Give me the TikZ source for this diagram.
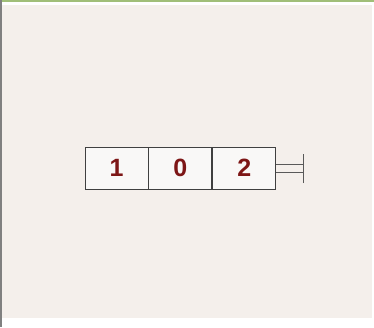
\documentclass[tikz,border=0pt]{standalone}
\usepackage{fontspec}
\setsansfont{Liberation Sans}
\usetikzlibrary{positioning}
\definecolor{slidebg}{RGB}{244, 239, 235}
\definecolor{cellfill}{RGB}{249, 248, 247}
\definecolor{digitred}{RGB}{125, 22, 22}
\definecolor{framegreen}{RGB}{160, 190, 120}

\begin{document}
\begin{tikzpicture}[x=1pt, y=-1pt, node distance=0pt,
    cell/.style={draw=black!75, line width=0.9pt, fill=cellfill, minimum width=63pt, minimum height=42pt,
                 inner sep=0pt, font=\sffamily\bfseries\fontsize{25}{25}\selectfont, text=digitred}]

        % Fondo
        \useasboundingbox (0,0) rectangle (374,327);
        \fill[white] (0,0) rectangle (374,327);
        \fill[slidebg] (2,5) rectangle (372,318);
        \fill[framegreen] (0,0) rectangle (374,1.5);
        \fill[gray] (0,0) rectangle (2,327);

        % --- CELDAS ---
        \node[cell] (c1) at (116.5,168) {1};
        \node[cell, right=of c1.east, anchor=west] (c2) {0};
        \node[cell, right=of c2.east, anchor=west] (c3) {2};

        % Tope
        \coordinate (topa) at ([yshift=-4pt]c3.east);
        \coordinate (topb) at ([yshift=4pt]c3.east);
        \coordinate (capa) at ([xshift=27pt]topa);
        \coordinate (capb) at ([xshift=27pt]topb);
        \draw[black!65, line width=0.9pt] (topa) -- (capa);
        \draw[black!65, line width=0.9pt] (topb) -- (capb);
        \draw[black!65, line width=0.9pt] ([yshift=-11pt]capa) -- ([yshift=10pt]capb);

    \end{tikzpicture}
\end{document}
